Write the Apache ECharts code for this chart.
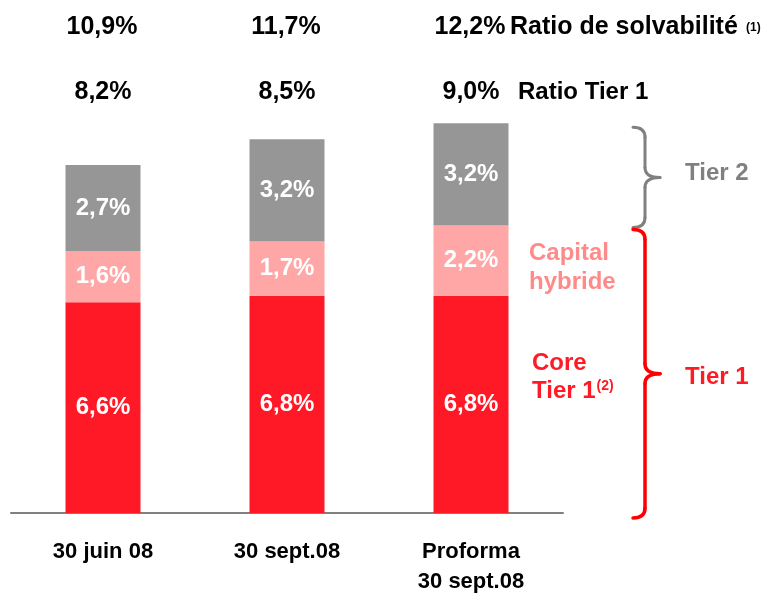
<!DOCTYPE html>
<html>
<head>
<meta charset="utf-8">
<script src="https://cdn.jsdelivr.net/npm/echarts@6/dist/echarts.min.js"></script>
<style>
html,body{margin:0;padding:0;background:#fff;}
#chart{width:772px;height:594px;}
</style>
</head>
<body>
<div id="chart"></div>
<script>
const categories = ['30 juin 08', '30 sept.08', 'Proforma\n30 sept.08'];
const coreTier1 = [6.6, 6.8, 6.8];
const capitalHybride = [1.6, 1.7, 2.2];
const tier2 = [2.7, 3.2, 3.2];
const ratioSolvabilite = ['10,9%', '11,7%', '12,2%'];
const ratioTier1 = ['8,2%', '8,5%', '9,0%'];

const FONT = '"Liberation Sans", Arial, sans-serif';
const fmt = v => String(v.toFixed(1)).replace('.', ',') + '%';

const chart = echarts.init(document.getElementById('chart'), null, {renderer: 'canvas'});

const labelStyle = {
  show: true, position: 'inside', color: '#fff', fontFamily: FONT,
  fontWeight: 'bold', fontSize: 24,
  formatter: p => fmt(p.value)
};

chart.setOption({
  animation: false,
  backgroundColor: '#fff',
  grid: {left: 11, right: 209, top: 2, bottom: 81, containLabel: false, outerBoundsMode: 'none'},
  xAxis: {
    type: 'category', data: categories,
    axisLine: {lineStyle: {color: '#808080', width: 2}},
    axisTick: {show: false},
    axisLabel: {color: '#000', fontFamily: FONT, fontWeight: 'bold', fontSize: 22, lineHeight: 30, margin: 24}
  },
  yAxis: {type: 'value', min: 0, max: 16, show: false, splitLine: {show: false}},
  series: [
    {name: 'Core Tier 1', type: 'bar', stack: 's', data: coreTier1, barWidth: 75,
     itemStyle: {color: '#ff1926'}, label: labelStyle},
    {name: 'Capital hybride', type: 'bar', stack: 's', data: capitalHybride, barWidth: 75,
     itemStyle: {color: '#ffa6a6'}, label: labelStyle},
    {name: 'Tier 2', type: 'bar', stack: 's', data: tier2, barWidth: 75,
     itemStyle: {color: '#969696'}, label: labelStyle}
  ]
});

function brace(top, bot, color, width) {
  const xs = 633, sp = 645, tip = 660, mid = (top + bot) / 2, r = 10;
  const st = {stroke: color, lineWidth: width, lineCap: 'round', fill: null};
  return [
    {type: 'bezierCurve', shape: {x1: xs, y1: top, cpx1: sp, cpy1: top, x2: sp, y2: top + r}, style: st},
    {type: 'line', shape: {x1: sp, y1: top + r, x2: sp, y2: mid - r}, style: st},
    {type: 'bezierCurve', shape: {x1: sp, y1: mid - r, cpx1: sp, cpy1: mid, x2: tip, y2: mid}, style: st},
    {type: 'bezierCurve', shape: {x1: tip, y1: mid, cpx1: sp, cpy1: mid, x2: sp, y2: mid + r}, style: st},
    {type: 'line', shape: {x1: sp, y1: mid + r, x2: sp, y2: bot - r}, style: st},
    {type: 'bezierCurve', shape: {x1: sp, y1: bot - r, cpx1: sp, cpy1: bot, x2: xs, y2: bot}, style: st}
  ];
}

const g = [];
const last = categories.length - 1;
categories.forEach((c, i) => {
  const x = chart.convertToPixel({xAxisIndex: 0}, i);
  g.push({type: 'text', x: x - 1, y: 27, style: {text: ratioSolvabilite[i], fill: '#000', font: 'bold 25px ' + FONT, textAlign: 'center', textVerticalAlign: 'middle'}});
  g.push({type: 'text', x: x, y: 92, style: {text: ratioTier1[i], fill: '#000', font: 'bold 25px ' + FONT, textAlign: 'center', textVerticalAlign: 'middle'}});
});
g.push({type: 'text', x: 510, y: 27, style: {text: 'Ratio de solvabilité', fill: '#000', font: 'bold 25px ' + FONT, textAlign: 'left', textVerticalAlign: 'middle'}});
g.push({type: 'text', x: 746, y: 28, style: {text: '(1)', fill: '#000', font: 'bold 12px ' + FONT, textAlign: 'left', textVerticalAlign: 'middle'}});
g.push({type: 'text', x: 518, y: 92, style: {text: 'Ratio Tier 1', fill: '#000', font: 'bold 24px ' + FONT, textAlign: 'left', textVerticalAlign: 'middle'}});

const t1 = coreTier1[last] + capitalHybride[last];
const tot = t1 + tier2[last];
const yTot = chart.convertToPixel({yAxisIndex: 0}, tot);
const yT1 = chart.convertToPixel({yAxisIndex: 0}, t1);
const y0 = chart.convertToPixel({yAxisIndex: 0}, 0);
brace(yTot + 4, yT1 + 2, '#808080', 3).forEach(e => g.push(e));
brace(yT1 + 4, y0 + 5, '#ff0000', 3.5).forEach(e => g.push(e));

g.push({type: 'text', x: 685, y: 173, style: {text: 'Tier 2', fill: '#808080', font: 'bold 24px ' + FONT, textAlign: 'left', textVerticalAlign: 'middle'}});
g.push({type: 'text', x: 685, y: 377, style: {text: 'Tier 1', fill: '#ff1a26', font: 'bold 24px ' + FONT, textAlign: 'left', textVerticalAlign: 'middle'}});
g.push({type: 'text', x: 529, y: 253, style: {text: 'Capital', fill: '#ff8a8a', font: 'bold 24px ' + FONT, textAlign: 'left', textVerticalAlign: 'middle'}});
g.push({type: 'text', x: 529, y: 282, style: {text: 'hybride', fill: '#ff8a8a', font: 'bold 24px ' + FONT, textAlign: 'left', textVerticalAlign: 'middle'}});
g.push({type: 'text', x: 532, y: 363, style: {text: 'Core', fill: '#ff1a26', font: 'bold 24px ' + FONT, textAlign: 'left', textVerticalAlign: 'middle'}});
g.push({type: 'text', x: 532, y: 391, style: {
  text: '{a|Tier 1}{b|(2)}', textAlign: 'left', textVerticalAlign: 'middle',
  rich: {
    a: {fill: '#ff1a26', font: 'bold 24px ' + FONT, verticalAlign: 'bottom'},
    b: {fill: '#ff1a26', font: 'bold 14px ' + FONT, verticalAlign: 'top', padding: [0, 0, 10, 1]}
  }
}});

chart.setOption({graphic: {elements: g}});
</script>
</body>
</html>
